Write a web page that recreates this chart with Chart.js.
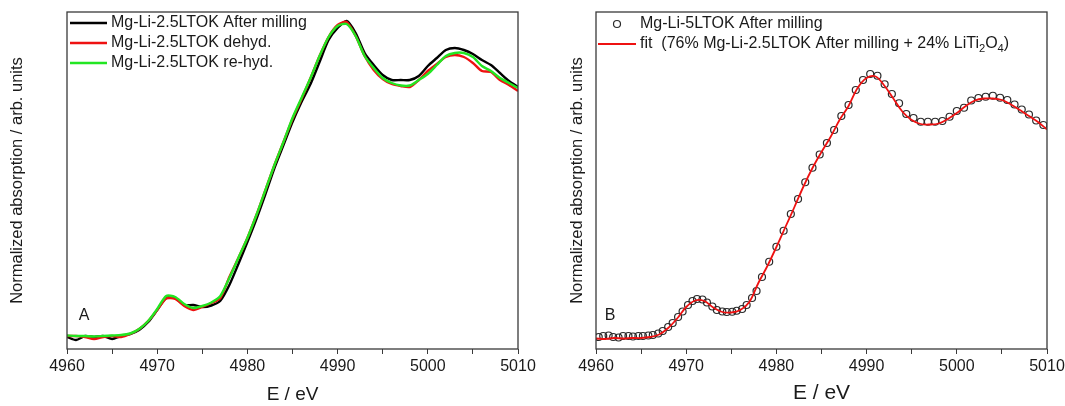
<!DOCTYPE html>
<html>
<head>
<meta charset="utf-8">
<script src="https://cdn.jsdelivr.net/npm/chart.js@4"></script>
<style>
  body { margin: 0; background: #fff; }
  #wrap { position: relative; width: 1065px; height: 406px; overflow: hidden; }
  #boxA { position: absolute; left: 0; top: 0; width: 560px; height: 406px; }
  #boxB { position: absolute; left: 560px; top: 0; width: 505px; height: 406px; }
</style>
</head>
<body>
<div id="wrap">
  <div id="boxA"><canvas id="chartA"></canvas></div>
  <div id="boxB"><canvas id="chartB"></canvas></div>
</div>
<script>
// Panel A: Mg-Li-2.5LTOK, three states (normalized absorption)
const energyA = [4960, 4961, 4962, 4963, 4964, 4965, 4966, 4967, 4968, 4969,
  4970, 4971, 4972, 4973, 4974, 4975, 4976, 4977, 4978, 4979,
  4980, 4981, 4982, 4983, 4984, 4985, 4986, 4987, 4988, 4989,
  4990, 4991, 4992, 4993, 4994, 4995, 4996, 4997, 4998, 4999,
  5000, 5001, 5002, 5003, 5004, 5005, 5006, 5007, 5008, 5009, 5010];

const afterMilling25 = [-0.004, -0.016, 0.000, -0.004, 0.000, -0.012, 0.000, 0.008, 0.024, 0.056,
  0.104, 0.152, 0.152, 0.124, 0.124, 0.116, 0.122, 0.141, 0.204, 0.288,
  0.376, 0.468, 0.568, 0.672, 0.764, 0.856, 0.936, 1.008, 1.096, 1.184,
  1.232, 1.260, 1.212, 1.132, 1.084, 1.044, 1.024, 1.024, 1.024, 1.040,
  1.080, 1.112, 1.144, 1.152, 1.144, 1.128, 1.104, 1.084, 1.052, 1.020, 0.996];

const dehyd25 = [0.000, 0.000, -0.004, -0.012, -0.004, 0.000, -0.004, 0.008, 0.028, 0.060,
  0.104, 0.150, 0.148, 0.120, 0.104, 0.116, 0.132, 0.152, 0.236, 0.312,
  0.392, 0.484, 0.584, 0.684, 0.776, 0.868, 0.948, 1.032, 1.120, 1.196,
  1.244, 1.256, 1.200, 1.120, 1.064, 1.028, 1.008, 1.000, 0.996, 1.024,
  1.060, 1.088, 1.116, 1.124, 1.116, 1.092, 1.060, 1.056, 1.024, 1.004, 0.980];

const rehyd25 = [0.002, 0.000, 0.000, -0.002, 0.000, 0.002, 0.004, 0.010, 0.028, 0.060,
  0.108, 0.160, 0.156, 0.128, 0.112, 0.120, 0.134, 0.160, 0.232, 0.312,
  0.392, 0.484, 0.584, 0.684, 0.776, 0.872, 0.952, 1.032, 1.120, 1.196,
  1.240, 1.248, 1.200, 1.120, 1.072, 1.032, 1.012, 1.002, 1.002, 1.024,
  1.048, 1.084, 1.120, 1.132, 1.132, 1.116, 1.080, 1.060, 1.032, 1.012, 0.992];

// Panel B: Mg-Li-5LTOK measured points and linear-combination fit
const energyB = [4960.3, 4960.8, 4961.4, 4961.9, 4962.5, 4963.0, 4963.6, 4964.1, 4964.7, 4965.2,
  4965.8, 4966.3, 4966.9, 4967.4, 4968.0, 4968.5, 4969.1, 4969.6, 4970.2, 4970.7,
  4971.2, 4971.8, 4972.3, 4972.9, 4973.4, 4974.0, 4974.5, 4975.1, 4975.6, 4976.2,
  4976.7, 4977.3, 4977.8, 4978.4, 4979.2, 4980.0, 4980.8, 4981.6, 4982.4, 4983.2,
  4984.0, 4984.8, 4985.6, 4986.4, 4987.2, 4988.0, 4988.8, 4989.6, 4990.4, 4991.2,
  4992.0, 4992.8, 4993.6, 4994.4, 4995.2, 4996.0, 4996.8, 4997.6, 4998.4, 4999.2,
  5000.0, 5000.8, 5001.6, 5002.4, 5003.2, 5004.0, 5004.8, 5005.6, 5006.4, 5007.2,
  5008.0, 5008.8, 5009.6];

const afterMilling5 = [-0.004, 0.000, 0.002, -0.004, -0.006, 0.000, 0.000, -0.002, 0.000, 0.000,
  0.002, 0.004, 0.010, 0.020, 0.036, 0.052, 0.076, 0.098, 0.124, 0.140,
  0.148, 0.146, 0.134, 0.118, 0.104, 0.098, 0.096, 0.097, 0.101, 0.108,
  0.124, 0.152, 0.180, 0.236, 0.297, 0.357, 0.421, 0.488, 0.548, 0.615,
  0.673, 0.726, 0.772, 0.824, 0.880, 0.924, 0.984, 1.024, 1.048, 1.041,
  1.007, 0.968, 0.931, 0.888, 0.872, 0.857, 0.857, 0.857, 0.860, 0.877,
  0.900, 0.913, 0.942, 0.952, 0.957, 0.961, 0.953, 0.944, 0.926, 0.906,
  0.886, 0.862, 0.844];

const fitEnergy = [4960, 4961, 4962, 4963, 4964, 4965, 4966, 4967, 4968, 4969,
  4970, 4971, 4972, 4973, 4974, 4975, 4976, 4977, 4978, 4979,
  4980, 4981, 4982, 4983, 4984, 4985, 4986, 4987, 4988, 4989,
  4990, 4991, 4992, 4993, 4994, 4995, 4996, 4997, 4998, 4999,
  5000, 5001, 5002, 5003, 5004, 5005, 5006, 5007, 5008, 5009, 5010];

const fitValues = [-0.010, -0.012, -0.008, -0.010, -0.008, -0.008, -0.004, 0.006, 0.032, 0.070,
  0.116, 0.142, 0.140, 0.114, 0.096, 0.094, 0.104, 0.136, 0.212, 0.280,
  0.356, 0.436, 0.516, 0.598, 0.672, 0.736, 0.796, 0.864, 0.920, 0.992,
  1.032, 1.038, 1.000, 0.948, 0.896, 0.864, 0.848, 0.846, 0.850, 0.868,
  0.892, 0.920, 0.942, 0.950, 0.950, 0.944, 0.926, 0.904, 0.880, 0.856, 0.826];

const xTickLabels = [4960, 4970, 4980, 4990, 5000, 5010];

const FONT = '"Liberation Sans", Arial, sans-serif';
const AXIS_COLOR = '#3a3a3a';
const TEXT_COLOR = '#1a1a1a';

function toPoints(xs, ys) {
    return xs.map((x, i) => ({ x: x, y: ys[i] }));
}

// draws "text_2" with the digit after "_" as a subscript
function drawRichText(ctx, text, x, y, size) {
    const parts = text.split(/_(\d)/);
    let cx = x;
    parts.forEach((part, i) => {
        const sub = i % 2 === 1;
        ctx.font = (sub ? size * 0.7 : size) + 'px ' + FONT;
        ctx.fillText(part, cx, sub ? y + size * 0.3 : y);
        cx += ctx.measureText(part).width;
    });
}

// frame around the plot, legend inside the plot and the panel letter
const framePlugin = {
    id: 'framePlugin',
    afterDraw(chart, args, opts) {
        const { ctx, chartArea: a } = chart;
        ctx.save();
        ctx.strokeStyle = AXIS_COLOR;
        ctx.lineWidth = 1.3;
        ctx.strokeRect(a.left, a.top, a.right - a.left, a.bottom - a.top);

        ctx.textBaseline = 'middle';
        ctx.fillStyle = TEXT_COLOR;
        chart.data.datasets.forEach((ds, i) => {
            const y = opts.y + i * opts.row;
            if (ds.showLine === false) {
                ctx.beginPath();
                ctx.arc(opts.x + opts.sample / 2, y, ds.pointRadius, 0, Math.PI * 2);
                ctx.strokeStyle = ds.pointBorderColor;
                ctx.lineWidth = ds.pointBorderWidth;
                ctx.stroke();
            } else {
                ctx.beginPath();
                ctx.moveTo(opts.x, y);
                ctx.lineTo(opts.x + opts.sample, y);
                ctx.strokeStyle = ds.borderColor;
                ctx.lineWidth = ds.borderWidth;
                ctx.stroke();
            }
            drawRichText(ctx, ds.label, opts.x + opts.sample + opts.gap, y, 16);
        });

        ctx.font = '16px ' + FONT;
        ctx.textAlign = 'center';
        ctx.fillText(opts.letter, opts.letterX, opts.letterY);
        ctx.restore();
    }
};

function makeOptions(yWidth, padRight, legend, titleSize) {
    return {
        responsive: true,
        maintainAspectRatio: false,
        animation: false,
        layout: { padding: { top: 12, right: padRight, left: 0, bottom: 0 } },
        plugins: {
            legend: { display: false },
            tooltip: { enabled: false },
            framePlugin: legend
        },
        scales: {
            x: {
                type: 'linear',
                min: 4960,
                max: 5010,
                afterFit: (scale) => {
                    scale.height = 57;
                    // let the layout padding alone decide where the plot ends
                    scale.paddingLeft = 0;
                    scale.paddingRight = 0;
                },
                grid: { display: true, drawOnChartArea: false, drawTicks: true, tickLength: 5, color: AXIS_COLOR },
                border: { display: false },
                ticks: {
                    stepSize: 5,
                    autoSkip: false,
                    maxRotation: 0,
                    padding: 3,
                    color: TEXT_COLOR,
                    font: { family: FONT, size: 16 },
                    callback: (v) => xTickLabels.includes(v) ? String(v) : ''
                },
                title: {
                    display: true,
                    text: 'E / eV',
                    color: TEXT_COLOR,
                    font: { family: FONT, size: titleSize },
                    padding: { top: 0, bottom: 0 }
                }
            },
            y: {
                min: -0.052,
                max: 1.296,
                afterFit: (scale) => { scale.width = yWidth; },
                grid: { display: false },
                border: { display: false },
                ticks: { display: false },
                title: {
                    display: true,
                    text: 'Normalized absorption / arb. units',
                    color: TEXT_COLOR,
                    font: { family: FONT, size: 16.5 },
                    padding: { top: 8, bottom: 0 }
                }
            }
        }
    };
}

new Chart(document.getElementById('chartA'), {
    type: 'line',
    data: {
        datasets: [
            { label: 'Mg-Li-2.5LTOK After milling', data: toPoints(energyA, afterMilling25),
              borderColor: '#000000', borderWidth: 2.4, pointRadius: 0, tension: 0.25, order: 2 },
            { label: 'Mg-Li-2.5LTOK dehyd.', data: toPoints(energyA, dehyd25),
              borderColor: '#ee1111', borderWidth: 2.4, pointRadius: 0, tension: 0.25, order: 1 },
            { label: 'Mg-Li-2.5LTOK re-hyd.', data: toPoints(energyA, rehyd25),
              borderColor: '#22e622', borderWidth: 2.4, pointRadius: 0, tension: 0.25, order: 0 }
        ]
    },
    options: makeOptions(67, 42, { x: 70, y: 23, row: 20, sample: 37, gap: 4, letter: 'A', letterX: 84, letterY: 316 }, 19),
    plugins: [framePlugin]
});

new Chart(document.getElementById('chartB'), {
    type: 'line',
    data: {
        datasets: [
            { label: 'Mg-Li-5LTOK After milling', data: toPoints(energyB, afterMilling5),
              showLine: false, pointRadius: 3.5, pointBorderWidth: 1.2, pointBorderColor: '#2a2a2a',
              pointBackgroundColor: 'rgba(255,255,255,0)', order: 1 },
            { label: 'fit  (76% Mg-Li-2.5LTOK After milling + 24% LiTi_2O_4)', data: toPoints(fitEnergy, fitValues),
              borderColor: '#ee1111', borderWidth: 1.8, pointRadius: 0, tension: 0.35, order: 0 }
        ]
    },
    options: makeOptions(36, 18, { x: 38, y: 24, row: 20, sample: 38, gap: 4, letter: 'B', letterX: 50, letterY: 316 }, 21),
    plugins: [framePlugin]
});
</script>
</body>
</html>
